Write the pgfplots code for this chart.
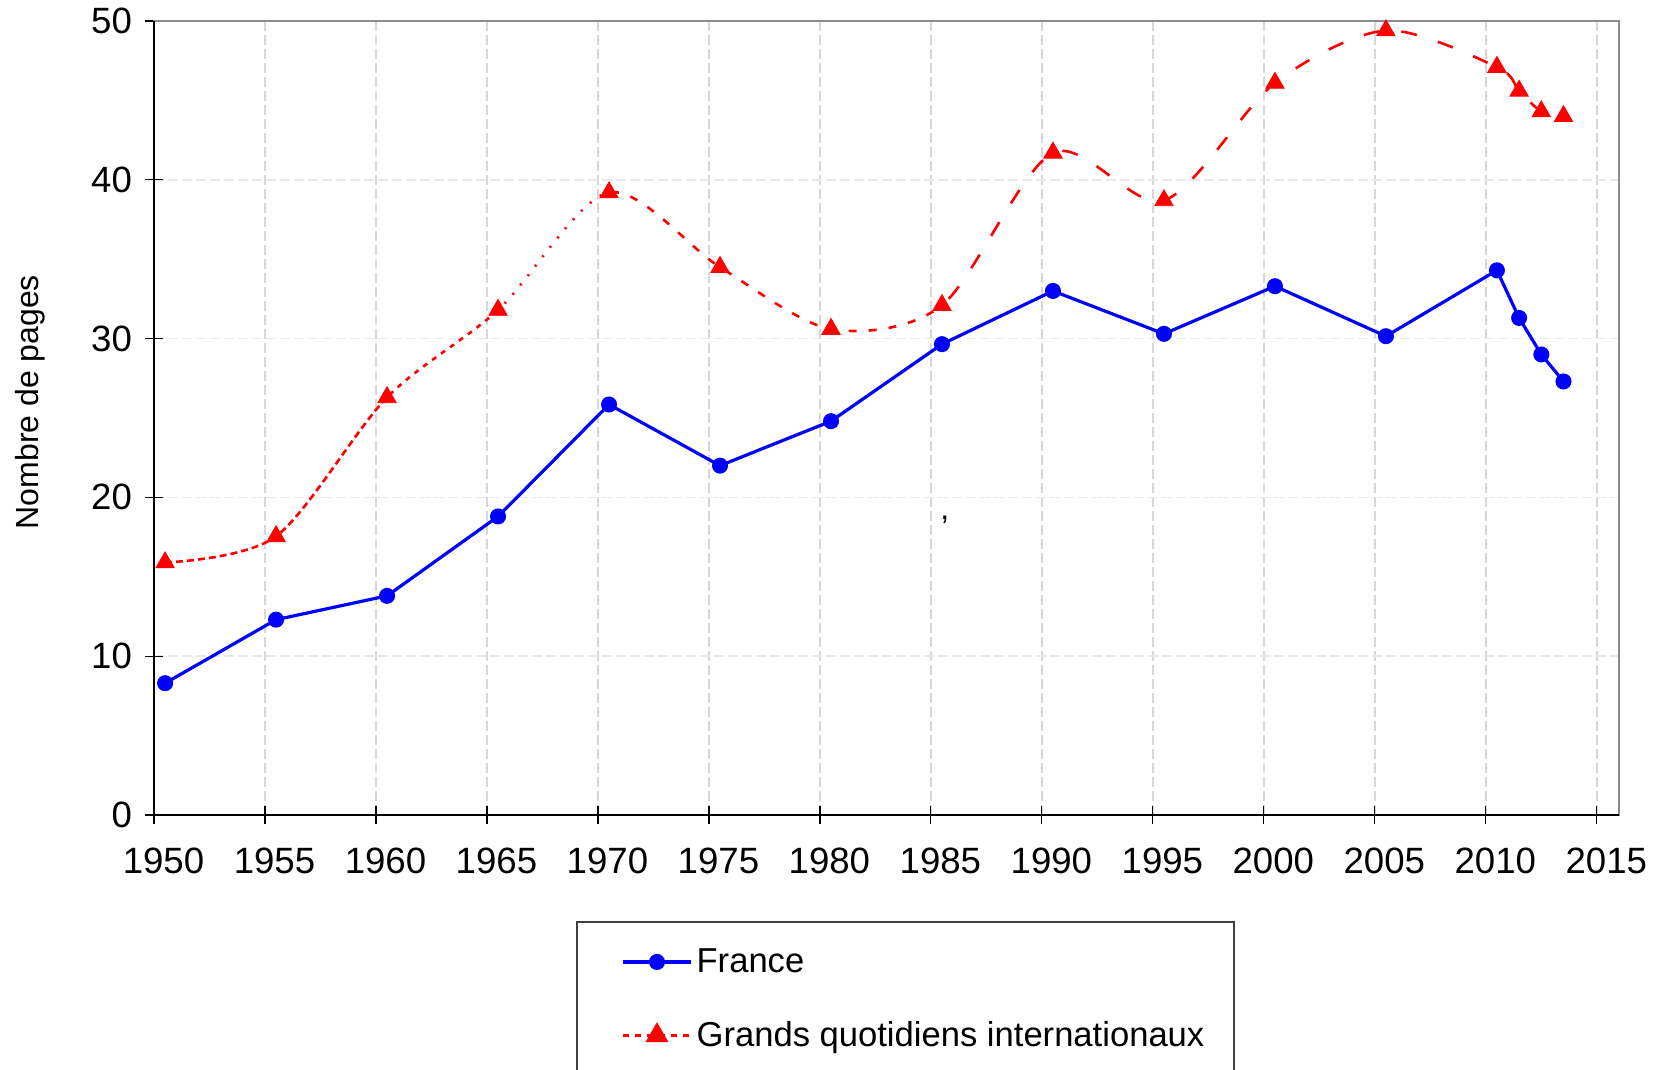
\documentclass[border=0pt]{standalone}
\usepackage{fontspec}
\setmainfont{Liberation Sans}
\usepackage{pgfplots}
\usepackage{pgfplotstable}
\pgfplotsset{compat=1.18}

\pgfplotstableread{
x y
1950.5 8.3
1955.5 12.3
1960.5 13.8
1965.5 18.8
1970.5 25.85
1975.5 22.0
1980.5 24.8
1985.5 29.65
1990.5 33.0
1995.5 30.3
2000.5 33.3
2005.5 30.15
2010.5 34.3
2011.5 31.3
2012.5 29.0
2013.5 27.3
}\france

\pgfplotstableread{
x y
1950.5 15.9
1955.5 17.55
1960.5 26.3
1965.5 31.8
1970.5 39.2
1975.5 34.5
1980.5 30.6
1985.5 32.1
1990.5 41.7
1995.5 38.7
2000.5 46.1
2005.5 49.4
2010.5 47.1
2011.5 45.6
2012.5 44.3
2013.5 44.0
}\grands

\definecolor{gridv}{RGB}{215,215,215}
\definecolor{gridh}{RGB}{232,232,232}
\definecolor{frame}{RGB}{140,140,140}

\begin{document}
\begin{tikzpicture}
\begin{axis}[
  scale only axis,
  width=732.5pt, height=397pt,
  xmin=1950, xmax=2016, ymin=0, ymax=50,
  xtick={1950,1955,...,2015}, ytick={0,10,...,50},
  tick pos=left,
  tick align=center, major tick length=9pt,
  tick style={black, line width=0.6pt},
  grid=major,
  x grid style={gridv, dash pattern=on 5pt off 2pt, line width=0.8pt},
  y grid style={gridh, dash pattern=on 5pt off 2pt, line width=0.8pt},
  axis line style={frame, line width=0.9pt},
  clip=false,
  /pgf/number format/assume math mode=true,
  ticklabel style={font=\fontsize{18.3}{21}\selectfont},
  x tick label style={/pgf/number format/1000 sep={}, xshift=4.75pt, yshift=-8.5pt},
  y tick label style={xshift=-3pt},
  every axis y label/.style={at={([xshift=-62pt]axis description cs:0,0.52)}, rotate=90, anchor=center, font=\fontsize{16}{19}\selectfont},
  ylabel={Nombre de pages},
  legend style={draw=none, fill=none, at={([xshift=233.5pt,yshift=-92pt]rel axis cs:0,0)}, anchor=west, font=\fontsize{17.3}{21}\selectfont, row sep=19pt, inner sep=0pt},
  legend cell align=left,
  legend image code/.code={\draw[mark repeat=2,mark phase=2,#1] plot coordinates {(0pt,0pt) (17pt,0pt) (34pt,0pt)};},
]
\draw[black, line width=0.9pt] (rel axis cs:0,1) -- (rel axis cs:0,0) -- (rel axis cs:1,0);

\begin{scope}
\clip (axis cs:1949,0) rectangle (axis cs:1960.5,55);
\addplot[red, smooth, line width=1.3pt, dash pattern=on 3.5pt off 2pt, forget plot] table[x=x,y=y]{\grands};
\end{scope}
\begin{scope}
\clip (axis cs:1960.5,0) rectangle (axis cs:1965.5,55);
\addplot[red, smooth, line width=1.3pt, dash pattern=on 2.5pt off 3pt, forget plot] table[x=x,y=y]{\grands};
\end{scope}
\begin{scope}
\clip (axis cs:1965.5,0) rectangle (axis cs:1970.5,55);
\addplot[red, smooth, line width=1.3pt, dash pattern=on 1pt off 5pt, forget plot] table[x=x,y=y]{\grands};
\end{scope}
\begin{scope}
\clip (axis cs:1970.5,0) rectangle (axis cs:1985.5,55);
\addplot[red, smooth, line width=1.3pt, dash pattern=on 4pt off 6pt, forget plot] table[x=x,y=y]{\grands};
\end{scope}
\begin{scope}
\clip (axis cs:1985.5,0) rectangle (axis cs:2016,55);
\addplot[red, smooth, line width=1.3pt, dash pattern=on 8pt off 11pt, forget plot] table[x=x,y=y]{\grands};
\end{scope}

\addplot[blue, line width=1.6pt, mark=*, mark size=3.2pt] table[x=x,y=y]{\france};
\addlegendentry{France}

\addplot[red, only marks, mark=triangle*, mark size=5.3pt, forget plot] table[x=x,y=y]{\grands};

\addlegendimage{red, line width=1.3pt, dash pattern=on 3pt off 3pt, mark=triangle*, mark size=5.3pt, mark options={solid}}
\addlegendentry{Grands quotidiens internationaux}

\node[font=\fontsize{16}{19}\selectfont] at (axis cs:1985.63,18.6) {,};

\draw[black!75, line width=0.8pt] ([xshift=211.5pt,yshift=-53.5pt]rel axis cs:0,0) rectangle ([xshift=540pt,yshift=-150pt]rel axis cs:0,0);
\end{axis}
\pgfresetboundingbox
\useasboundingbox (-77pt,-127.5pt) rectangle (751pt,407.5pt);
\end{tikzpicture}
\end{document}
